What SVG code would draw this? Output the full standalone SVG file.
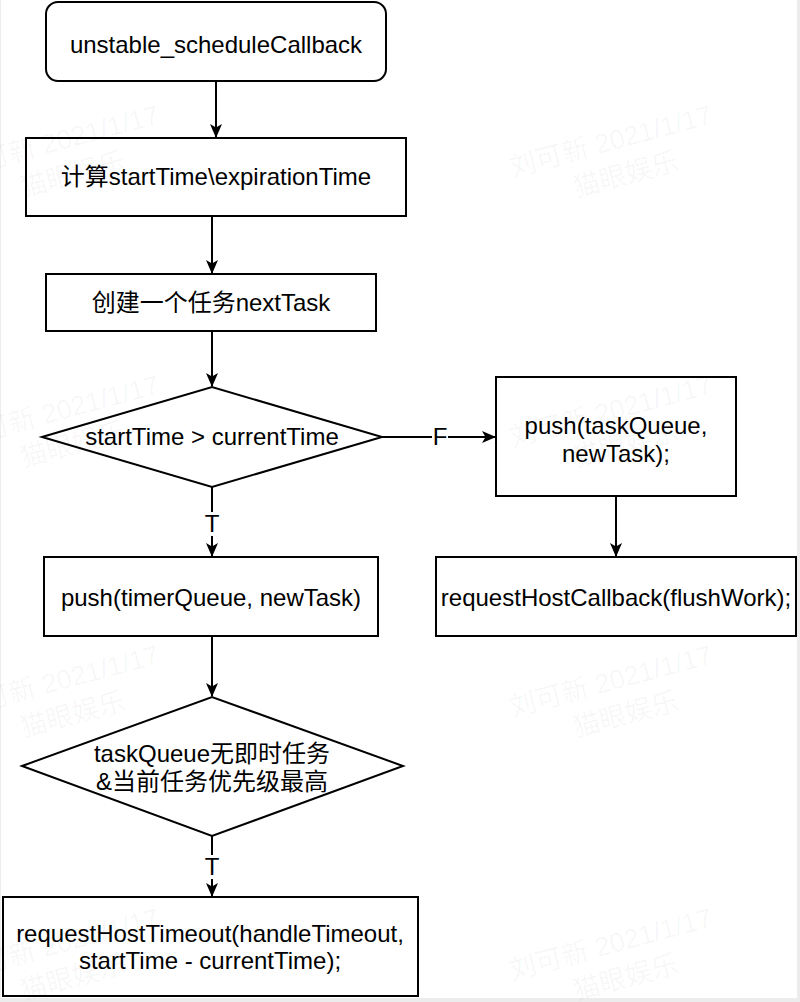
<svg xmlns="http://www.w3.org/2000/svg" width="800" height="1002" viewBox="0 0 800 1002">
<style>
.box{fill:#fff;stroke:#000;stroke-width:2}
.t{font-family:"Liberation Sans","Noto Sans CJK SC",Arial,sans-serif;font-size:24px;fill:#000;text-anchor:middle}
.e{fill:none;stroke:#000;stroke-width:2}
.lbl{fill:#fff}
.wm{font-family:"Liberation Sans","Noto Sans CJK SC",sans-serif;font-size:27px;fill:#000;fill-opacity:0.04;text-anchor:middle}
</style>
<defs>
<marker id="arr" viewBox="0 0 14 12" refX="13" refY="6" markerWidth="14" markerHeight="12" markerUnits="userSpaceOnUse" orient="auto">
<path d="M0,0 L14,6 L0,12 L3.5,6 Z" fill="#000"/>
</marker>
</defs>
<rect x="0" y="0" width="800" height="1002" fill="#ececec"/>
<rect x="1" y="0" width="796" height="998" fill="#fff"/>
<g id="connectors">
<path class="e" d="M216,82 V137" marker-end="url(#arr)"/>
<path class="e" d="M212,217 V273" marker-end="url(#arr)"/>
<path class="e" d="M212,331 V386" marker-end="url(#arr)"/>
<path class="e" d="M382,437 H495" marker-end="url(#arr)"/>
<rect class="lbl" x="432" y="425" width="16" height="24"/>
<text class="t" x="440" y="445">F</text>
<path class="e" d="M212,487 V556" marker-end="url(#arr)"/>
<rect class="lbl" x="203" y="512" width="18" height="24"/>
<text class="t" x="212" y="532">T</text>
<path class="e" d="M616,496 V556" marker-end="url(#arr)"/>
<path class="e" d="M212,636 V696" marker-end="url(#arr)"/>
<path class="e" d="M212,836 V896" marker-end="url(#arr)"/>
<rect class="lbl" x="203" y="855" width="18" height="24"/>
<text class="t" x="212" y="875">T</text>
</g>
<g id="n1"><rect class="box" x="46" y="2" width="340" height="79" rx="12"/><text class="t" x="216" y="53">unstable_scheduleCallback</text></g>
<g id="n2"><rect class="box" x="26" y="138" width="380" height="78"/><text class="t" x="216" y="185">计算startTime\expirationTime</text></g>
<g id="n3"><rect class="box" x="46" y="274" width="330" height="57"/><text class="t" x="211" y="311">创建一个任务nextTask</text></g>
<g id="n4"><path class="box" d="M42,437 L212,387 L382,437 L212,487 Z"/><text class="t" x="212" y="445">startTime &gt; currentTime</text></g>
<g id="n5"><rect class="box" x="496" y="377" width="240" height="119"/><text class="t" x="616" y="434">push(taskQueue,</text><text class="t" x="616" y="462">newTask);</text></g>
<g id="n6"><rect class="box" x="44" y="557" width="334" height="79"/><text class="t" x="211" y="606">push(timerQueue, newTask)</text></g>
<g id="n7"><rect class="box" x="436" y="557" width="360" height="79"/><text class="t" x="616" y="606">requestHostCallback(flushWork);</text></g>
<g id="n8"><path class="box" d="M22,766 L212,697 L403,766 L212,836 Z"/><text class="t" x="212" y="762">taskQueue无即时任务</text><text class="t" x="212" y="790">&amp;当前任务优先级最高</text></g>
<g id="n9"><rect class="box" x="3" y="897" width="415" height="99"/><text class="t" x="210" y="942">requestHostTimeout(handleTimeout,</text><text class="t" x="210" y="969">startTime - currentTime);</text></g>
<g id="watermark">
<g transform="translate(613,150) rotate(-15)"><text class="wm" x="0" y="0">刘可新 2021/1/17</text><text class="wm" x="6" y="36">猫眼娱乐</text></g>
<g transform="translate(613,420) rotate(-15)"><text class="wm" x="0" y="0">刘可新 2021/1/17</text><text class="wm" x="6" y="36">猫眼娱乐</text></g>
<g transform="translate(613,690) rotate(-15)"><text class="wm" x="0" y="0">刘可新 2021/1/17</text><text class="wm" x="6" y="36">猫眼娱乐</text></g>
<g transform="translate(613,953) rotate(-15)"><text class="wm" x="0" y="0">刘可新 2021/1/17</text><text class="wm" x="6" y="36">猫眼娱乐</text></g>
<g transform="translate(60,150) rotate(-15)"><text class="wm" x="0" y="0">刘可新 2021/1/17</text><text class="wm" x="6" y="36">猫眼娱乐</text></g>
<g transform="translate(60,420) rotate(-15)"><text class="wm" x="0" y="0">刘可新 2021/1/17</text><text class="wm" x="6" y="36">猫眼娱乐</text></g>
<g transform="translate(60,690) rotate(-15)"><text class="wm" x="0" y="0">刘可新 2021/1/17</text><text class="wm" x="6" y="36">猫眼娱乐</text></g>
<g transform="translate(60,953) rotate(-15)"><text class="wm" x="0" y="0">刘可新 2021/1/17</text><text class="wm" x="6" y="36">猫眼娱乐</text></g>
</g>
</svg>
